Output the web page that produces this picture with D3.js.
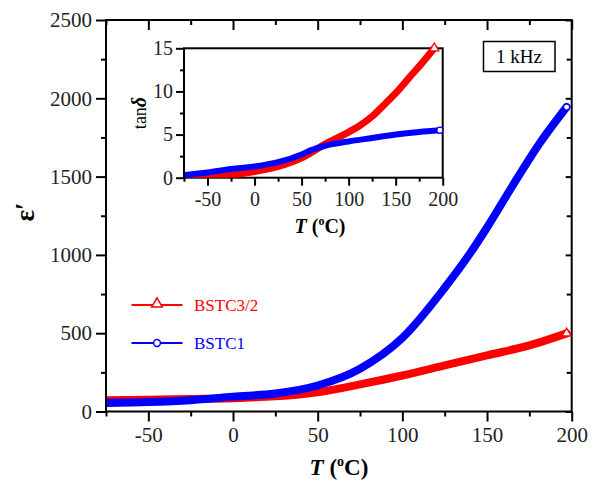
<!DOCTYPE html>
<html><head><meta charset="utf-8">
<script src="https://cdn.jsdelivr.net/npm/d3@7"></script>
<style>body{margin:0;background:#fff}svg{display:block}
svg text{font-family:"Liberation Serif","Tinos","DejaVu Serif",serif !important}</style>
</head><body>
<script>
// Main panel: dielectric constant vs temperature
const tempsBSTC32 = [-75,-50,-25,0,25,50,75,100,125,150,175,197];
const epsBSTC32   = [72,75,80,85,97,123,173,230,294,358,422,499];
const tempsBSTC1  = [-75,-50,-25,0,25,50,75,100,125,140,150,165,181,197];
const epsBSTC1    = [55,60,72,95,115,166,273,470,790,1010,1175,1440,1711,1944];
// Inset: loss tangent
const insetTempsBSTC32 = [-75,-50,-25,0,25,50,60,75,95,110,125,140,150,166,175,191];
const tanBSTC32        = [0.05,0.1,0.3,0.7,1.3,2.3,2.9,3.9,5.0,5.9,7.1,8.7,9.8,11.8,12.9,15.0];
const insetTempsBSTC1  = [-75,-50,-25,0,25,50,60,75,100,125,150,175,197];
const tanBSTC1         = [0.3,0.6,1.0,1.3,1.8,2.7,3.2,3.7,4.2,4.6,5.0,5.3,5.5];
const xTicksMajor = [-50,0,50,100,150,200];
const xTicksMinor = [-75,-25,25,75,125,175];
const yTicksMajor = [0,500,1000,1500,2000,2500];
const yTicksMinor = [250,750,1250,1750,2250];
const iyTicksMajor = [0,5,10,15];
const iyTicksMinor = [2.5,7.5,12.5];
const seriesNames = ["BSTC3/2","BSTC1"];
const colors = ["#ff0000","#0000ff"];

const FONT="'Liberation Serif','Tinos','DejaVu Serif',serif";
const W=597,H=485;
const svg=d3.select("body").append("svg").attr("width",W).attr("height",H)
  .attr("font-family",FONT);

const x=d3.scaleLinear().domain([-75,200]).range([106,571.7]);
const y=d3.scaleLinear().domain([0,2500]).range([411.5,20]);

function axes(g, xs, ys, xmaj, xmin, ymaj, ymin, opt){
  const fs=opt.fs;
  const b=ys.range()[0], t=ys.range()[1], l=xs.range()[0], r=xs.range()[1];
  const fmt=d=>String(d);
  g.append("g").attr("transform",`translate(0,${b})`)
    .call(d3.axisBottom(xs).tickValues(xmaj).tickSize(opt.maj).tickPadding(opt.padX).tickFormat(fmt));
  g.append("g").attr("transform",`translate(0,${b})`)
    .call(d3.axisBottom(xs).tickValues(xmin).tickSize(opt.min).tickFormat(""));
  g.append("g").attr("transform",`translate(${l},0)`)
    .call(d3.axisLeft(ys).tickValues(ymaj).tickSize(opt.maj).tickPadding(opt.padY).tickFormat(fmt));
  g.append("g").attr("transform",`translate(${l},0)`)
    .call(d3.axisLeft(ys).tickValues(ymin).tickSize(opt.min).tickFormat(""));
  if(opt.mirror){
    g.append("g").attr("transform",`translate(0,${t})`)
      .call(d3.axisTop(xs).tickValues(xmaj).tickSize(-opt.maj).tickFormat(""));
    g.append("g").attr("transform",`translate(0,${t})`)
      .call(d3.axisTop(xs).tickValues(xmin).tickSize(-opt.min).tickFormat(""));
    g.append("g").attr("transform",`translate(${r},0)`)
      .call(d3.axisRight(ys).tickValues(ymaj).tickSize(-6).tickFormat(""));
    g.append("g").attr("transform",`translate(${r},0)`)
      .call(d3.axisRight(ys).tickValues(ymin).tickSize(-5).tickFormat(""));
  }
  g.selectAll("g").attr("font-family",FONT);
  g.selectAll(".domain").remove();
  g.selectAll(".tick line").attr("stroke","#000").attr("stroke-width",2);
  g.selectAll(".tick text").attr("font-size",fs).attr("fill","#222");
  g.append("rect").attr("x",l).attr("y",t).attr("width",r-l).attr("height",b-t)
    .attr("fill","none").attr("stroke","#000").attr("stroke-width",2);
}

function drawSeries(g, xs, ys, tArr, vArr, color, sw, sym, clipId){
  const pts=tArr.map((t,i)=>[t,vArr[i]]);
  const line=d3.line().x(d=>xs(d[0])).y(d=>ys(d[1])).curve(d3.curveMonotoneX);
  g.append("path").attr("d",line(pts)).attr("fill","none").attr("stroke",color)
    .attr("stroke-width",sw).attr("stroke-linecap","round").attr("stroke-linejoin","round")
    .attr("clip-path",`url(#${clipId})`);
  const last=pts[pts.length-1];
  g.append("path").attr("d",d3.symbol().type(sym).size(sym===d3.symbolCircle?30:36)())
    .attr("transform",`translate(${xs(last[0])},${ys(last[1])})`)
    .attr("fill","#fff").attr("stroke",color).attr("stroke-width",1.3);
}

const defs=svg.append("defs");
defs.append("clipPath").attr("id","cMain").append("rect")
  .attr("x",107).attr("y",21).attr("width",571.7-108+2).attr("height",411.5-21);

const gMain=svg.append("g");
axes(gMain,x,y,xTicksMajor,xTicksMinor,yTicksMajor,yTicksMinor,{fs:21,maj:10,min:5,padX:6,padY:4,mirror:true});
drawSeries(gMain,x,y,tempsBSTC32,epsBSTC32,colors[0],8,d3.symbolTriangle,"cMain");
drawSeries(gMain,x,y,tempsBSTC1,epsBSTC1,colors[1],8,d3.symbolCircle,"cMain");

// axis titles
svg.append("text").attr("x",339).attr("y",475).attr("text-anchor","middle")
  .attr("font-size",23).attr("font-weight","bold")
  .html('<tspan font-style="italic">T</tspan> (<tspan dy="-9" font-size="14">o</tspan><tspan dy="9">C)</tspan>');
svg.append("text").attr("transform","translate(34,212) rotate(-90)").attr("text-anchor","middle")
  .attr("font-size",27).attr("font-weight","bold").text("ε′");

// 1 kHz box
svg.append("rect").attr("x",483.5).attr("y",41.5).attr("width",71.5).attr("height",30)
  .attr("fill","#fff").attr("stroke","#000").attr("stroke-width",1.5);
svg.append("text").attr("x",519).attr("y",63).attr("text-anchor","middle").attr("font-size",19).text("1 kHz");

// legend
const leg=svg.append("g");
const legY=[305,343];
seriesNames.forEach((n,i)=>{
  leg.append("line").attr("x1",131.5).attr("x2",182.5).attr("y1",legY[i]).attr("y2",legY[i])
    .attr("stroke",colors[i]).attr("stroke-width",1.8);
  leg.append("path").attr("d",d3.symbol().type(i===0?d3.symbolTriangle:d3.symbolCircle).size(i===0?50:36)())
    .attr("transform",`translate(157,${legY[i]+(i===0?-1:0)})`)
    .attr("fill","#fff").attr("stroke",colors[i]).attr("stroke-width",1.5);
  leg.append("text").attr("x",194).attr("y",legY[i]+6).attr("font-size",17).attr("fill",colors[i]).text(n);
});

// inset
const ix=d3.scaleLinear().domain([-75,200]).range([184,442.7]);
const iy=d3.scaleLinear().domain([0,15]).range([177.7,48.3]);
defs.append("clipPath").attr("id","cIn").append("rect")
  .attr("x",185).attr("y",40).attr("width",442.7-185+4).attr("height",177.7-40);
const gIn=svg.append("g");
gIn.append("rect").attr("x",184).attr("y",48.3).attr("width",442.7-184).attr("height",177.7-48.3).attr("fill","#fff");
axes(gIn,ix,iy,xTicksMajor,xTicksMinor,iyTicksMajor,iyTicksMinor,{fs:20,maj:8,min:4,padX:6,padY:3,mirror:false});
drawSeries(gIn,ix,iy,insetTempsBSTC32,tanBSTC32,colors[0],7,d3.symbolTriangle,"cIn");
drawSeries(gIn,ix,iy,insetTempsBSTC1,tanBSTC1,colors[1],6,d3.symbolCircle,"cIn");
svg.append("text").attr("x",320).attr("y",233).attr("text-anchor","middle")
  .attr("font-size",20).attr("font-weight","bold")
  .html('<tspan font-style="italic">T</tspan> (<tspan dy="-8" font-size="12">o</tspan><tspan dy="8">C)</tspan>');
svg.append("text").attr("transform","translate(146,113) rotate(-90)").attr("text-anchor","middle")
  .attr("font-size",18)
  .html('tan<tspan font-weight="bold" font-style="italic" font-size="20">δ</tspan>');
</script>
</body></html>
